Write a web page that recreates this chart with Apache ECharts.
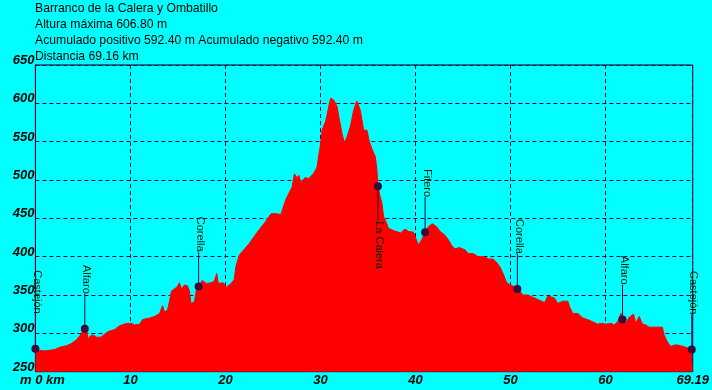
<!DOCTYPE html>
<html><head><meta charset="utf-8">
<script src="https://cdn.jsdelivr.net/npm/echarts@6/dist/echarts.min.js"></script>
<style>html,body{margin:0;padding:0;background:#00ffff}#c{width:712px;height:390px}</style>
</head><body><div id="c"></div>
<script>
const titleLines = [
  'Barranco de la Calera y Ombatillo',
  'Altura máxima 606.80 m',
  'Acumulado positivo 592.40 m Acumulado negativo 592.40 m',
  'Distancia 69.16 km'
];
const distKm = [0,0.27,1.0,1.53,2.05,2.58,3.31,3.84,4.36,4.67,4.99,5.2,5.41,5.55,5.72,6.04,6.46,6.88,7.19,7.61,8.34,8.87,9.6,10.13,10.44,10.97,11.28,12.02,12.54,13.07,13.38,13.6,13.9,14.1,14.32,14.63,14.95,15.16,15.37,15.68,16.0,16.2,16.38,16.73,16.94,17.18,17.57,17.78,17.99,18.51,18.83,19.09,19.25,19.46,19.77,20.08,20.29,20.6,20.92,21.1,21.45,22.49,23.54,24.24,24.8,25.32,25.85,25.99,26.34,26.69,27.03,27.26,27.53,27.74,27.95,28.16,28.36,28.78,29.31,29.65,29.83,30.01,30.18,30.53,30.7,30.95,31.09,31.41,31.58,31.75,31.93,32.27,32.53,32.8,33.16,33.5,33.82,33.92,34.2,34.55,34.9,35.15,35.42,35.78,35.94,36.05,36.3,36.47,36.65,36.82,37.17,37.69,38.43,38.92,39.27,39.79,39.97,40.32,40.66,41.02,41.36,41.78,42.23,42.59,43.11,43.46,43.81,44.16,44.61,45.21,45.56,46.08,46.6,47.31,47.65,48.17,48.52,48.88,49.23,49.57,49.93,50.45,50.73,51.0,51.32,51.84,52.55,53.07,53.6,53.94,54.64,54.99,55.51,56.04,56.22,56.56,57.09,57.61,58.13,58.66,59.18,59.53,60.05,60.58,60.93,61.28,61.63,61.8,62.15,62.5,62.96,63.2,63.56,63.9,64.25,64.6,66.0,66.17,66.52,66.86,67.38,67.91,68.08,68.43,69.07,69.19];
const elevM = [280,278,277,278,279,282,284,287,292,297,302,306,303,292,296,298,295,295,298,302,305,310,313,313,311,312,318,320,322,326,336,328,330,341,355,358,361,366,358,363,362,356,339,341,356,361,369,370,365,366,368,378,365,363,366,360,358,365,370,387,402,417,435,446,456,456,455,461,474,483,491,508,503,506,496,497,503,502,509,517,533,546,565,576,585,600,606.8,604,606,596,583,561,548,556,570,591,603,604,591,565,565,550,541,530,515,492,478,470,452,448,437,434,431,436,433,432,426,415,422,432,439,443,439,433,428,422,415,410,412,409,404,404,400,400,397,397,393,387,378,367,363,361,358,355,350,350,346,343,340,349,346,339,342,342,335,326,326,320,318,315,312,313,312,313,311,315,326,318,313,321,325,313,322,312,311,308,308,298,289,283,285,284,286,282,279,278];
const markerNames = ['Castejón','Alfaro','Corella','La Calera','Fitero','Corella','Alfaro','Castejón'];
const markerKm = [0, 5.2, 17.18, 36.05, 41.02, 50.73, 61.8, 69.09];
const markerM = [280, 306, 361, 492, 432, 358, 318, 279];
const markerSide = [1, 1, 1, -1, 1, 1, 1, 1];
const xMin = 0, xMax = 69.19, xStep = 10;
const yMin = 250, yMax = 650, yStep = 50;

const gridColor = '#400040';
const labelFont = { fontFamily: '"Liberation Sans", Arial, sans-serif', fontSize: 13, fontWeight: 'bold', fontStyle: 'italic', color: '#000' };

const chart = echarts.init(document.getElementById('c'), null, { renderer: 'canvas' });
chart.setOption({
  backgroundColor: '#00ffff',
  animation: false,
  title: {
    text: titleLines.join('\n'),
    left: 35, top: 0, padding: 0,
    textStyle: { fontFamily: '"Liberation Sans", Arial, sans-serif', fontSize: 12.2, fontWeight: 'normal', color: '#000', lineHeight: 16.3 }
  },
  grid: { left: 35.4, right: 16.6, top: 65, bottom: 18.3, show: true, borderColor: '#000030', borderWidth: 1, backgroundColor: 'transparent' },
  xAxis: {
    type: 'value', min: xMin, max: xMax, interval: xStep,
    axisLine: { show: true, lineStyle: { color: '#000030' } },
    axisTick: { show: false },
    splitLine: { show: true, lineStyle: { color: gridColor, type: [4, 3], width: 1 } },
    axisLabel: Object.assign({}, labelFont, {
      margin: 2, showMaxLabel: true,
      formatter: v => v === 0 ? '{a|m 0 km}' : (Math.abs(v - xMax) < 1e-6 ? '69.19' : String(v)),
      rich: { a: Object.assign({}, labelFont, { padding: [0, 0, 0, 14] }) }
    })
  },
  yAxis: {
    type: 'value', min: yMin, max: yMax, interval: yStep,
    axisLine: { show: true, lineStyle: { color: '#000030' } },
    axisTick: { show: false },
    splitLine: { show: true, lineStyle: { color: gridColor, type: [4, 3], width: 1 } },
    axisLabel: Object.assign({}, labelFont, { margin: 1, verticalAlign: 'bottom', lineHeight: 9 })
  },
  series: [
    {
      type: 'line', data: distKm.map((d, i) => [d, elevM[i]]),
      showSymbol: false, symbol: 'none', z: 1,
      lineStyle: { color: '#ff0000', width: 1 },
      areaStyle: { color: '#ff0000', opacity: 1, origin: 'start' }
    },
    {
      type: 'custom', z: 5, clip: false,
      data: markerKm.map((d, i) => [d, markerM[i]]),
      renderItem: function (params, api) {
        const i = params.dataIndex;
        const p = api.coord([api.value(0), api.value(1)]);
        const side = markerSide[i];
        const L = 35;
        const ey = p[1] - side * L;
        return {
          type: 'group',
          children: [
            { type: 'line', shape: { x1: p[0], y1: p[1], x2: p[0], y2: ey }, style: { stroke: '#200040', lineWidth: 1 } },
            { type: 'circle', shape: { cx: p[0], cy: p[1], r: 4 }, style: { fill: '#3a0a3a' } },
            { type: 'text', x: p[0] + 1.5, y: ey, rotation: -Math.PI / 2,
              style: { text: markerNames[i], fill: '#002000', font: '11px "Liberation Sans", Arial, sans-serif',
                align: side > 0 ? 'right' : 'left', textAlign: side > 0 ? 'right' : 'left',
                verticalAlign: 'middle', textVerticalAlign: 'middle' } }
          ]
        };
      }
    }
  ]
});
</script></body></html>
